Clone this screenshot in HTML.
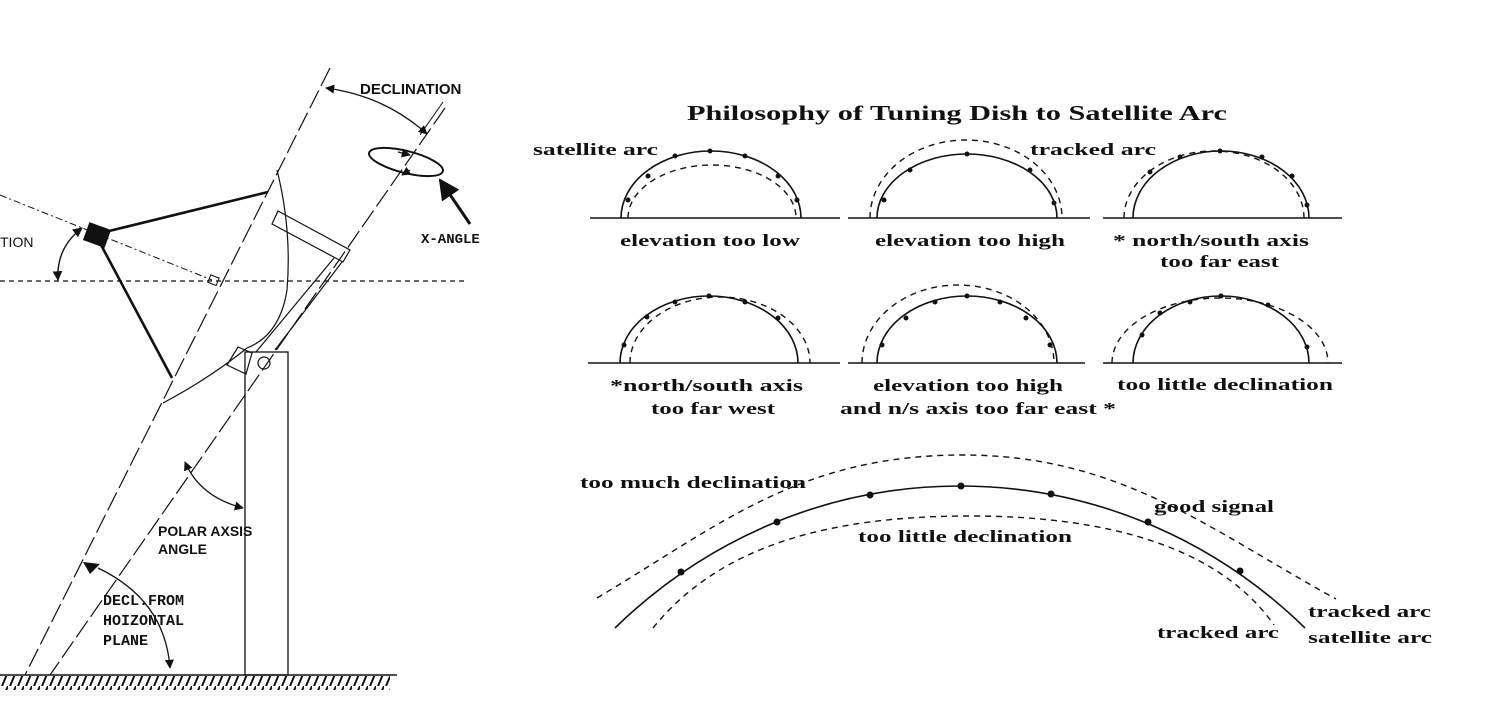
<!DOCTYPE html>
<html><head><meta charset="utf-8"><style>
html,body{margin:0;padding:0;background:#fff;}
svg{display:block;}
.s{font-family:"Liberation Serif",serif;font-weight:bold;fill:#111;}
.a{font-family:"Liberation Sans",sans-serif;fill:#111;}
.m{font-family:"Liberation Mono",monospace;font-weight:bold;fill:#111;}
</style></head><body>
<svg width="1491" height="707" viewBox="0 0 1491 707" xmlns="http://www.w3.org/2000/svg">
<defs>
<marker id="ah" viewBox="0 0 10 10" refX="9" refY="5" markerWidth="7" markerHeight="7" orient="auto-start-reverse"><path d="M0 0L10 5L0 10z" fill="#111"/></marker>
<pattern id="hatch" width="8" height="14" patternUnits="userSpaceOnUse"><path d="M8 0L2 14" stroke="#111" stroke-width="2"/></pattern>
</defs>
<g fill="none" stroke="#111">
<line x1="0" y1="281" x2="468" y2="281" stroke-width="1.3" stroke-dasharray="5,4"/>
<line x1="0" y1="195" x2="212" y2="280" stroke-width="1" stroke-dasharray="7,3,2,3"/>
<rect x="209" y="276" width="9" height="8" transform="rotate(22 213 280)" stroke-width="1"/>
<line x1="105" y1="232" x2="268" y2="192" stroke-width="2.6"/>
<line x1="100" y1="243" x2="172" y2="378" stroke-width="2.6"/>
<rect x="86" y="226" width="22" height="18" fill="#111" transform="rotate(20 97 235)"/>
<path d="M82 228 Q56 248 58 280" stroke-width="1.4" marker-start="url(#ah)" marker-end="url(#ah)"/>
<line x1="330" y1="68" x2="25" y2="675" stroke-width="1.2" stroke-dasharray="20,5"/>
<line x1="445" y1="108" x2="50" y2="675" stroke-width="1.2" stroke-dasharray="20,5"/>
<path d="M277 170 Q292 230 287 290 Q280 335 247 348 Q210 378 163 403" stroke-width="1.2"/>
<polygon points="278,211 350,250 343,262 272,224" stroke-width="1.2"/>
<line x1="342" y1="262" x2="275" y2="350" stroke-width="1.2"/>
<line x1="334" y1="258" x2="256" y2="352" stroke-width="1.2"/>
<polygon points="238,347 252,353 246,374 227,365" stroke-width="1.2"/>
<rect x="245" y="352" width="43" height="323" stroke-width="1.3"/>
<circle cx="264" cy="363" r="6" stroke-width="1.2"/>
<line x1="0" y1="675" x2="397" y2="675" stroke-width="1.5"/>
<rect x="0" y="676" width="390" height="14" fill="url(#hatch)" stroke="none"/>
<path d="M326 88 Q385 96 427 134" stroke-width="1.3" marker-start="url(#ah)" marker-end="url(#ah)"/>
<line x1="443" y1="102" x2="420" y2="135" stroke-width="1"/>
<ellipse cx="406" cy="162" rx="38" ry="11" transform="rotate(14 406 162)" stroke-width="2"/>
<path d="M398 152 L410 155" stroke-width="1.3" marker-end="url(#ah)"/>
<path d="M410 170 L402 175" stroke-width="1.3" marker-end="url(#ah)"/>
<line x1="470" y1="224" x2="440" y2="180" stroke-width="3" marker-end="url(#ah)"/>
<path d="M185 462 Q200 497 243 508" stroke-width="1.3" marker-start="url(#ah)" marker-end="url(#ah)"/>
<path d="M98 568 Q165 600 170 668" stroke-width="1.3" marker-end="url(#ah)"/>
<polygon points="83,562 100,564 90,574" fill="#111" stroke="none"/>
</g>
<text x="360" y="94" class="a" font-size="15" font-weight="bold">DECLINATION</text>
<text x="421" y="243" class="m" font-size="14">X-ANGLE</text>
<text x="0" y="247" class="a" font-size="14">TION</text>
<text x="158" y="536" class="a" font-size="14" font-weight="bold">POLAR AXSIS</text>
<text x="158" y="554" class="a" font-size="14" font-weight="bold">ANGLE</text>
<text x="103" y="605" class="m" font-size="15">DECL.FROM</text>
<text x="103" y="625" class="m" font-size="15">HOIZONTAL</text>
<text x="103" y="645" class="m" font-size="15">PLANE</text>

<text x="957" y="120" class="s" font-size="21" text-anchor="middle" textLength="540" lengthAdjust="spacingAndGlyphs">Philosophy of Tuning Dish to Satellite Arc</text>
<g fill="none" stroke="#111">
<g stroke-width="1.6">
<line x1="590" y1="218" x2="840" y2="218"/><line x1="848" y1="218" x2="1090" y2="218"/><line x1="1103" y1="218" x2="1342" y2="218"/>
<line x1="588" y1="363" x2="840" y2="363"/><line x1="848" y1="363" x2="1085" y2="363"/><line x1="1103" y1="363" x2="1342" y2="363"/>
</g>
<g stroke-width="1.6">
<path d="M621 218 A90 67 0 0 1 801 218"/>
<path d="M877 218 A90 64 0 0 1 1057 218"/>
<path d="M1133 218 A88 67 0 0 1 1309 218"/>
<path d="M620 363 A89 67 0 0 1 798 363"/>
<path d="M877 363 A90 67 0 0 1 1057 363"/>
<path d="M1133 363 A88 67 0 0 1 1309 363"/>
<path d="M615 628 C700 545 820 486 960 486 C1100 486 1220 545 1305 628"/>
</g>
<g stroke-width="1.4" stroke-dasharray="6,5">
<path d="M628 218 A84 53 0 0 1 796 218"/>
<path d="M870 218 A96 78 0 0 1 1062 218"/>
<path d="M1124 218 A90 67 0 0 1 1304 218"/>
<path d="M630 363 A90 66 0 0 1 810 363"/>
<path d="M862 363 A96 78 0 0 1 1054 363"/>
<path d="M1112 363 A108 65 0 0 1 1328 363"/>
<path d="M597 598 C720 525 800 455 963 455 C1120 455 1210 530 1336 599"/>
<path d="M653 628 C720 545 830 516 970 516 C1110 516 1220 548 1274 625"/>
</g>
</g>
<g fill="#111">
<circle cx="681" cy="572" r="3.5"/><circle cx="777" cy="522" r="3.5"/><circle cx="870" cy="495" r="3.5"/><circle cx="961" cy="486" r="3.5"/><circle cx="1051" cy="494" r="3.5"/><circle cx="1148" cy="522" r="3.5"/><circle cx="1240" cy="571" r="3.5"/>
<circle cx="628" cy="200" r="2.5"/><circle cx="648" cy="176" r="2.5"/><circle cx="675" cy="156" r="2.5"/><circle cx="710" cy="151" r="2.5"/><circle cx="745" cy="156" r="2.5"/><circle cx="778" cy="176" r="2.5"/><circle cx="797" cy="200" r="2.5"/>
<circle cx="884" cy="200" r="2.5"/><circle cx="910" cy="170" r="2.5"/><circle cx="967" cy="154" r="2.5"/><circle cx="1030" cy="170" r="2.5"/><circle cx="1054" cy="203" r="2.5"/>
<circle cx="1150" cy="172" r="2.5"/><circle cx="1180" cy="157" r="2.5"/><circle cx="1220" cy="151" r="2.5"/><circle cx="1262" cy="157" r="2.5"/><circle cx="1292" cy="176" r="2.5"/><circle cx="1307" cy="205" r="2.5"/>
<circle cx="624" cy="345" r="2.5"/><circle cx="647" cy="317" r="2.5"/><circle cx="675" cy="302" r="2.5"/><circle cx="709" cy="296" r="2.5"/><circle cx="745" cy="302" r="2.5"/><circle cx="778" cy="318" r="2.5"/>
<circle cx="882" cy="345" r="2.5"/><circle cx="906" cy="318" r="2.5"/><circle cx="935" cy="302" r="2.5"/><circle cx="967" cy="296" r="2.5"/><circle cx="1000" cy="302" r="2.5"/><circle cx="1026" cy="318" r="2.5"/><circle cx="1050" cy="345" r="2.5"/>
<circle cx="1142" cy="335" r="2.5"/><circle cx="1160" cy="313" r="2.5"/><circle cx="1190" cy="302" r="2.5"/><circle cx="1221" cy="296" r="2.5"/><circle cx="1268" cy="305" r="2.5"/><circle cx="1307" cy="347" r="2.5"/>
</g>
<g class="s" font-size="17">
<text x="533" y="155" textLength="125" lengthAdjust="spacingAndGlyphs">satellite arc</text>
<text x="1030" y="155" textLength="126" lengthAdjust="spacingAndGlyphs">tracked arc</text>
<text x="620" y="246" textLength="180" lengthAdjust="spacingAndGlyphs">elevation too low</text>
<text x="875" y="246" textLength="190" lengthAdjust="spacingAndGlyphs">elevation too high</text>
<text x="1113" y="246" textLength="196" lengthAdjust="spacingAndGlyphs">* north/south axis</text>
<text x="1160" y="267" textLength="119" lengthAdjust="spacingAndGlyphs">too far east</text>
<text x="610" y="391" textLength="193" lengthAdjust="spacingAndGlyphs">*north/south axis</text>
<text x="651" y="414" textLength="124" lengthAdjust="spacingAndGlyphs">too far west</text>
<text x="873" y="391" textLength="190" lengthAdjust="spacingAndGlyphs">elevation too high</text>
<text x="840" y="414" textLength="276" lengthAdjust="spacingAndGlyphs">and n/s axis too far east *</text>
<text x="1117" y="390" textLength="216" lengthAdjust="spacingAndGlyphs">too little declination</text>
<text x="580" y="488" textLength="226" lengthAdjust="spacingAndGlyphs">too much declination</text>
<text x="1154" y="512" textLength="120" lengthAdjust="spacingAndGlyphs">good signal</text>
<text x="858" y="542" textLength="214" lengthAdjust="spacingAndGlyphs">too little declination</text>
<text x="1308" y="617" textLength="123" lengthAdjust="spacingAndGlyphs">tracked arc</text>
<text x="1157" y="638" textLength="122" lengthAdjust="spacingAndGlyphs">tracked arc</text>
<text x="1308" y="643" textLength="124" lengthAdjust="spacingAndGlyphs">satellite arc</text>
</g>
</svg>
</body></html>
